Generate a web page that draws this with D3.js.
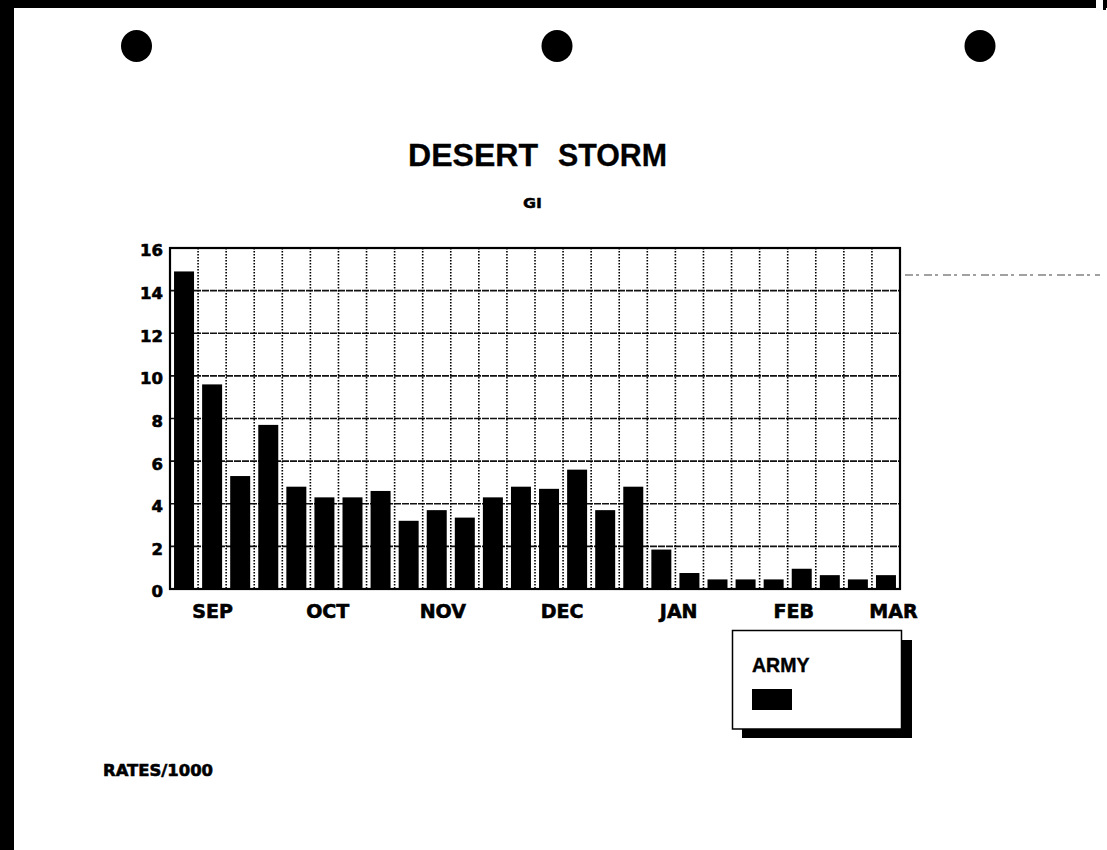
<!DOCTYPE html>
<html><head><meta charset="utf-8">
<script src="https://cdn.jsdelivr.net/npm/d3@7"></script>
<style>body{margin:0;background:#fff}svg{display:block}</style>
</head><body>
<svg id="chart" width="1107" height="850"></svg>
<script>
// ---- data ----
const weeks = [1,2,3,4,5,6,7,8,9,10,11,12,13,14,15,16,17,18,19,20,21,22,23,24,25,26];
const armyRates = [14.9, 9.6, 5.3, 7.7, 4.8, 4.3, 4.3, 4.6, 3.2, 3.7, 3.35, 4.3, 4.8,
                   4.7, 5.6, 3.7, 4.8, 1.85, 0.75, 0.45, 0.45, 0.45, 0.95, 0.65, 0.45, 0.65];
const yTicks = [0, 2, 4, 6, 8, 10, 12, 14, 16];
const monthLabels = ["SEP", "OCT", "NOV", "DEC", "JAN", "FEB", "MAR"];
const monthAtWeek = [2.0, 6.1, 10.2, 14.45, 18.6, 22.7, 26.25];
const seriesName = "ARMY";
const titleWords = ["DESERT", "STORM"];
const subtitle = "GI";
const note = "RATES/1000";

// ---- layout ----
const svg = d3.select("#chart");
const W = 1107, H = 850;
const plot = {left: 170, right: 900, top: 248, bottom: 589};
const heavy = "'DejaVu Sans', sans-serif";
const helv = "'Liberation Sans', Arial, sans-serif";

svg.append("rect").attr("width", W).attr("height", H).attr("fill", "#fff");

// scanned page frame
svg.append("rect").attr("x", 0).attr("y", 0).attr("width", 14).attr("height", H).attr("fill", "#000");
svg.append("rect").attr("x", 0).attr("y", 0).attr("width", W).attr("height", 8).attr("fill", "#000");
svg.append("rect").attr("x", 1096).attr("y", 0).attr("width", 7).attr("height", 8).attr("fill", "#fff");
svg.append("rect").attr("x", 1103).attr("y", 0).attr("width", 3).attr("height", 10).attr("fill", "#000");
// punch holes
[[136.5, 46], [557, 46], [980, 46]].forEach(([cx, cy]) =>
  svg.append("ellipse").attr("cx", cx).attr("cy", cy).attr("rx", 15.5).attr("ry", 16).attr("fill", "#000"));
// scan artefact line
svg.append("line").attr("x1", 905).attr("x2", 1100).attr("y1", 275).attr("y2", 275)
  .attr("stroke", "#444").attr("stroke-width", 1.2).attr("stroke-dasharray", "8,3,3,5");

// titles
const titleX = [408, 558], titleLen = [130, 109];
titleWords.forEach((w, i) =>
  svg.append("text").attr("x", titleX[i]).attr("y", 166)
    .attr("font-family", helv).attr("font-weight", "bold").attr("font-size", 31)
    .attr("stroke", "#000").attr("stroke-width", 0.3)
    .attr("textLength", titleLen[i]).attr("lengthAdjust", "spacingAndGlyphs").text(w));
svg.append("text").attr("x", 523).attr("y", 208).
  attr("font-family", heavy).attr("font-weight", "bold").attr("font-size", 13.5)
  .attr("stroke", "#000").attr("stroke-width", 0.4)
  .attr("textLength", 19).attr("lengthAdjust", "spacingAndGlyphs").text(subtitle);

// scales
const x = d3.scaleBand().domain(weeks).range([plot.left, plot.right]).paddingInner(0.288).paddingOuter(0.144);
const xLin = d3.scaleLinear().domain([0.5, 26.5]).range([plot.left, plot.right]);
const y = d3.scaleLinear().domain([0, 16]).range([plot.bottom, plot.top]);

// grid
const g = svg.append("g");
g.selectAll("line.h").data(yTicks.filter(d => d > 0 && d < 16)).join("line")
  .attr("x1", plot.left).attr("x2", plot.right)
  .attr("y1", d => y(d)).attr("y2", d => y(d))
  .attr("stroke", "#111").attr("stroke-width", 1.7).attr("stroke-dasharray", "7,1");
g.selectAll("line.v").data(weeks.slice(1)).join("line")
  .attr("x1", d => xLin(d - 0.5)).attr("x2", d => xLin(d - 0.5))
  .attr("y1", plot.top).attr("y2", plot.bottom)
  .attr("stroke", "#000").attr("stroke-width", 1.6).attr("stroke-dasharray", "1.5,1.5");

// bars
svg.append("g").selectAll("rect").data(armyRates).join("rect")
  .attr("x", (d, i) => x(weeks[i])).attr("width", x.bandwidth())
  .attr("y", d => y(d)).attr("height", d => y(0) - y(d))
  .attr("fill", "#000");

// frame
svg.append("rect").attr("x", plot.left).attr("y", plot.top)
  .attr("width", plot.right - plot.left).attr("height", plot.bottom - plot.top)
  .attr("fill", "none").attr("stroke", "#000").attr("stroke-width", 2.2);

// y axis labels
const yAxis = d3.axisLeft(y).tickValues(yTicks).tickSize(0).tickPadding(7).tickFormat(d3.format("d"));
const ya = svg.append("g").attr("transform", `translate(${plot.left},0)`).call(yAxis);
ya.select(".domain").remove();
ya.selectAll("text").attr("font-family", heavy).attr("font-weight", "bold")
  .attr("font-size", 16.5).attr("fill", "#000").attr("stroke", "#000").attr("stroke-width", 0.6)
  .attr("dy", "0.48em");

// month labels
const xAxis = d3.axisBottom(xLin).tickValues(monthAtWeek).tickSize(0).tickPadding(0)
  .tickFormat((d, i) => monthLabels[i]);
const xa = svg.append("g").attr("transform", `translate(0,${plot.bottom})`).call(xAxis);
xa.select(".domain").remove();
xa.selectAll("text").attr("font-family", heavy).attr("font-weight", "bold")
  .attr("font-size", 19).attr("fill", "#000").attr("stroke", "#000").attr("stroke-width", 0.6)
  .attr("dy", null).attr("y", 29);

// legend
const lg = svg.append("g");
lg.append("rect").attr("x", 742).attr("y", 640).attr("width", 170).attr("height", 98).attr("fill", "#000");
lg.append("rect").attr("x", 732.5).attr("y", 630.5).attr("width", 169).attr("height", 98.5)
  .attr("fill", "#fff").attr("stroke", "#000").attr("stroke-width", 1.5);
lg.append("text").attr("x", 752).attr("y", 671.5).attr("font-family", helv).attr("font-weight", "bold")
  .attr("font-size", 19.5).attr("stroke", "#000").attr("stroke-width", 0.4).text(seriesName);
lg.append("rect").attr("x", 752).attr("y", 689).attr("width", 40).attr("height", 21).attr("fill", "#000");

// note
svg.append("text").attr("x", 103).attr("y", 776).attr("font-family", heavy).attr("font-weight", "bold")
  .attr("font-size", 16.5).attr("stroke", "#000").attr("stroke-width", 0.6)
  .attr("textLength", 110).attr("lengthAdjust", "spacingAndGlyphs").text(note);
</script>
</body></html>
